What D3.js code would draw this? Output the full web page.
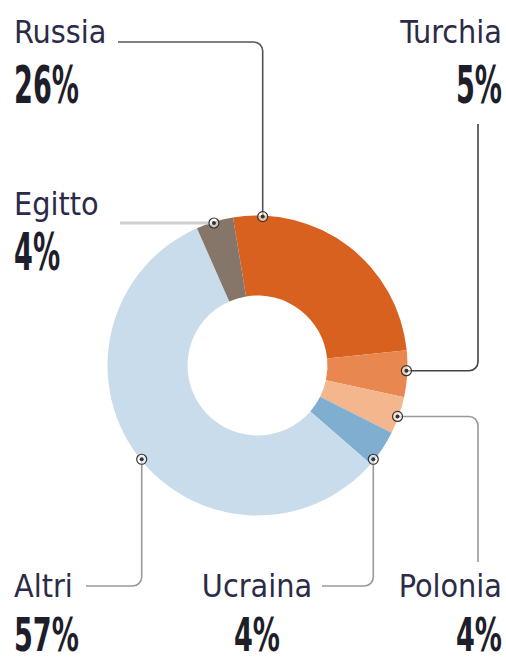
<!DOCTYPE html>
<html>
<head>
<meta charset="utf-8">
<script src="https://cdn.jsdelivr.net/npm/d3@7"></script>
<style>
  body { margin: 0; background: #fff; }
  svg { display: block; }
  .name { font-family: "DejaVu Sans Condensed", "DejaVu Sans", sans-serif; font-stretch: condensed; font-size: 32px; fill: #2b2b48; }
  .pct { font-family: "DejaVu Sans Condensed", "DejaVu Sans", sans-serif; font-stretch: condensed; font-weight: bold; fill: #1e1e2a; }
</style>
</head>
<body>
<div id="chart"></div>
<script>
// data
const countries = ["Russia", "Turchia", "Polonia", "Ucraina", "Altri", "Egitto"];
const shares = [26, 5, 4, 4, 57, 4];
const colors = ["#d8611f", "#e8874f", "#f3b68d", "#80aed0", "#c9dcec", "#86766a"];

// where each label sits and how its leader runs
const labelPos = [
  { x: 14,  y: 43,  anchor: "start",  py: 103, fs: 52 },
  { x: 502, y: 43,  anchor: "end",    py: 103, fs: 52 },
  { x: 502, y: 597, anchor: "end",    py: 651, fs: 46 },
  { x: 257, y: 597, anchor: "middle", py: 651, fs: 46 },
  { x: 14,  y: 597, anchor: "start",  py: 651, fs: 46 },
  { x: 14,  y: 215, anchor: "start",  py: 270, fs: 52 }
];
const markerDeg = [2, 92, 110, 129, 231, 343];
const lineColor = ["#555", "#444", "#999", "#999", "#999", "#d0d0d0"];
const lineWidth = [1.6, 1.6, 1.6, 1.6, 1.6, 3];

const width = 506, height = 662;
const cx = 257.5, cy = 365.5, rOuter = 150, rInner = 70;

const svg = d3.select("#chart")
    .append("svg")
    .attr("width", width)
    .attr("height", height);

const data = countries.map((c, i) => ({ name: c, value: shares[i], i }));

const startA = -9.4 * Math.PI / 180;
const pie = d3.pie()
    .value(d => d.value)
    .sort(null)
    .startAngle(startA)
    .endAngle(startA + 2 * Math.PI);

const arc = d3.arc().innerRadius(rInner).outerRadius(rOuter);

const g = svg.append("g").attr("transform", `translate(${cx},${cy})`);

g.selectAll("path")
  .data(pie(data))
  .enter().append("path")
    .attr("d", arc)
    .attr("fill", d => colors[d.data.i]);

// marker points on the outer edge
const markers = markerDeg.map(a => {
  const r = a * Math.PI / 180;
  return [cx + (rOuter - 1) * Math.sin(r), cy - (rOuter - 1) * Math.cos(r)];
});

// leader routes (marker first)
const routes = [
  [markers[0], [markers[0][0], 42], [118, 42]],
  [markers[1], [478, markers[1][1]], [478, 124]],
  [markers[2], [478, markers[2][1]], [478, 562]],
  [markers[3], [markers[3][0], 586], [322, 586]],
  [markers[4], [markers[4][0], 586], [86, 586]],
  [markers[5], [120, markers[5][1]]]
];

function rounded(pts, rad) {
  const p = d3.path();
  p.moveTo(pts[0][0], pts[0][1]);
  for (let k = 1; k < pts.length - 1; k++) {
    p.arcTo(pts[k][0], pts[k][1], pts[k + 1][0], pts[k + 1][1], rad);
  }
  const last = pts[pts.length - 1];
  p.lineTo(last[0], last[1]);
  return p.toString();
}

svg.append("g")
  .selectAll("path")
  .data(routes)
  .enter().append("path")
    .attr("d", d => rounded(d, 9))
    .attr("fill", "none")
    .attr("stroke", (d, i) => lineColor[i])
    .attr("stroke-width", (d, i) => lineWidth[i]);

const mk = svg.append("g")
  .selectAll("g")
  .data(markers)
  .enter().append("g")
    .attr("transform", d => `translate(${d[0]},${d[1]})`);

mk.append("circle")
    .attr("r", 5)
    .attr("fill", "#fff")
    .attr("fill-opacity", 0.6)
    .attr("stroke", "#333")
    .attr("stroke-width", 1.2);

mk.append("circle")
    .attr("r", 2)
    .attr("fill", "#333");

// labels
const lab = svg.append("g")
  .selectAll("g")
  .data(data)
  .enter().append("g");

lab.append("text")
    .attr("class", "name")
    .attr("x", d => labelPos[d.i].x)
    .attr("y", d => labelPos[d.i].y)
    .attr("text-anchor", d => labelPos[d.i].anchor)
    .text(d => d.name);

lab.append("g")
    .attr("transform", d => {
      const p = labelPos[d.i];
      return `translate(${p.x},${p.py}) scale(${0.58 * 52 / p.fs},1)`;
    })
  .append("text")
    .attr("class", "pct")
    .attr("font-size", d => labelPos[d.i].fs + "px")
    .attr("text-anchor", d => labelPos[d.i].anchor)
    .text(d => d.value + "%");
</script>
</body>
</html>
